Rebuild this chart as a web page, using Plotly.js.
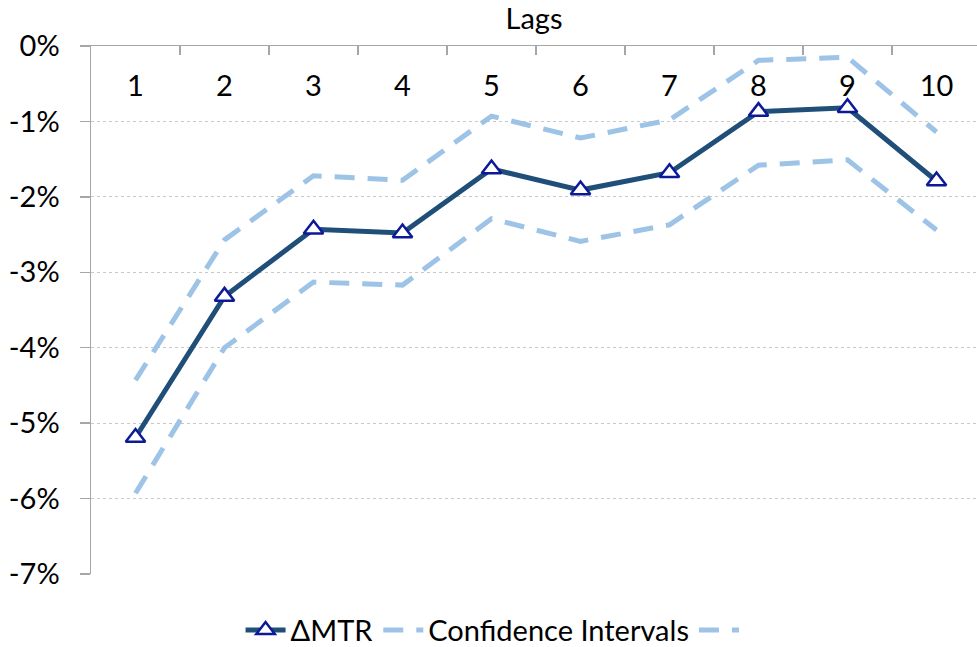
<!DOCTYPE html>
<html>
<head>
<meta charset="utf-8">
<script src="https://cdn.plot.ly/plotly-3.0.1.min.js"></script>
<style>html,body{margin:0;padding:0;background:#fff;}#chart{width:977px;height:647px;}</style>
</head>
<body>
<div id="chart"></div>
<script>
const lags = ["1","2","3","4","5","6","7","8","9","10"];
const dMTR = [-5.19, -3.32, -2.43, -2.48, -1.63, -1.91, -1.68, -0.87, -0.82, -1.79];
const ciUpper = [-4.43, -2.57, -1.72, -1.78, -0.93, -1.22, -0.98, -0.19, -0.15, -1.14];
const ciLower = [-5.93, -4.00, -3.13, -3.17, -2.29, -2.59, -2.37, -1.58, -1.51, -2.44];
const yTickVals = [0, -1, -2, -3, -4, -5, -6, -7];
const yTickText = ["0%", "-1%", "-2%", "-3%", "-4%", "-5%", "-6%", "-7%"];

const FONT = "Lato, 'Open Sans', sans-serif";
const FS = 29;
const ciColor = "#9dc3e6";
const axisGray = "#a6a6a6";

const traces = [
  {x: lags, y: dMTR, name: "ΔMTR", type: "scatter", mode: "lines+markers",
   line: {color: "#1f4e79", width: 5},
   marker: {symbol: "triangle-up", size: 17, color: "#ffffff", line: {color: "#0c1a9a", width: 2.5}}},
  {x: lags, y: ciUpper, name: "Confidence Intervals", type: "scatter", mode: "lines",
   line: {color: ciColor, width: 5, dash: "20px,13px"}},
  {x: lags, y: ciLower, name: " ", type: "scatter", mode: "lines",
   line: {color: ciColor, width: 5, dash: "20px,13px"}},
  // carrier for the top axis line/ticks (not visible)
  {x: lags, y: dMTR, xaxis: "x2", type: "scatter", mode: "lines", showlegend: false,
   hoverinfo: "skip", opacity: 0, line: {width: 0}}
];

const layout = {
  width: 977, height: 647,
  margin: {l: 91, r: 0, t: 46, b: 73, autoexpand: false},
  paper_bgcolor: "#ffffff", plot_bgcolor: "#ffffff",
  font: {family: FONT, size: FS, color: "#000000"},
  showlegend: true,
  legend: {orientation: "h", x: 0.46, xanchor: "center", y: -0.058, yanchor: "top",
           font: {family: FONT, size: FS, color: "#000"}, itemwidth: 40},
  xaxis: {
    type: "category", range: [-0.5, 9.455], side: "bottom", anchor: "free", position: 0.962,
    showline: false, ticks: "", showgrid: false, zeroline: false, automargin: false,
    tickfont: {family: FONT, size: FS, color: "#000"}, fixedrange: true
  },
  xaxis2: {
    type: "category", range: [-0.5, 9.455], side: "top", overlaying: "x", anchor: "y",
    title: {text: "Lags", font: {family: FONT, size: FS, color: "#000"}, standoff: 8},
    showline: true, linecolor: axisGray, linewidth: 1.5, automargin: false,
    ticks: "inside", ticklen: 9, tickcolor: axisGray, tickwidth: 1.5, tickson: "boundaries",
    showticklabels: false, showgrid: false, zeroline: false, fixedrange: true
  },
  yaxis: {
    range: [-7, 0], tickmode: "array", tickvals: yTickVals, ticktext: yTickText,
    showline: true, linecolor: axisGray, linewidth: 1.5, automargin: false,
    ticks: "outside", ticklen: 10, tickcolor: axisGray, tickwidth: 1.5,
    ticklabelstandoff: 14,
    tickfont: {family: FONT, size: FS, color: "#000"},
    showgrid: true, gridcolor: "#c8c8c8", griddash: "dot", gridwidth: 1,
    zeroline: false, fixedrange: true
  }
};

Plotly.newPlot("chart", traces, layout, {displayModeBar: false, staticPlot: true});
</script>
</body>
</html>
